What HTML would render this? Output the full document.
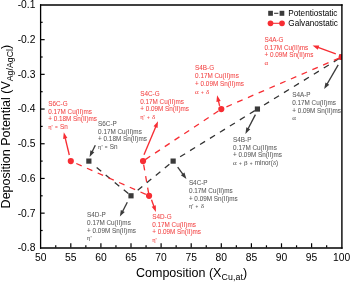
<!DOCTYPE html>
<html><head><meta charset="utf-8"><style>
html,body{margin:0;padding:0;background:#fff;width:350px;height:282px;overflow:hidden}
svg{display:block;will-change:transform;font-family:"Liberation Sans",sans-serif}
</style></head><body>
<svg width="350" height="282" viewBox="0 0 350 282">
<defs><clipPath id="pc"><rect x="40.65" y="5.1" width="301.05" height="242.4"/></clipPath></defs>
<g clip-path="url(#pc)">
<line x1="96.66" y1="167.52" x2="131.00" y2="195.80" stroke="#333" stroke-width="1.3" stroke-dasharray="5.9 5.8"/>
<line x1="137.72" y1="190.27" x2="173.14" y2="161.10" stroke="#333" stroke-width="1.3" stroke-dasharray="5.9 5.8"/>
<line x1="180.12" y1="156.79" x2="257.42" y2="109.05" stroke="#333" stroke-width="1.3" stroke-dasharray="5.9 5.8"/>
<line x1="264.06" y1="104.95" x2="341.70" y2="57.00" stroke="#333" stroke-width="1.3" stroke-dasharray="5.9 5.8"/>
<line x1="76.29" y1="163.53" x2="149.06" y2="195.80" stroke="#f72d33" stroke-width="1.3" stroke-dasharray="5.9 5.8"/>
<line x1="148.65" y1="193.44" x2="143.04" y2="161.10" stroke="#f72d33" stroke-width="1.3" stroke-dasharray="5.9 5.8"/>
<line x1="145.29" y1="159.60" x2="221.30" y2="109.05" stroke="#f72d33" stroke-width="1.3" stroke-dasharray="5.9 5.8"/>
<line x1="226.44" y1="106.83" x2="341.70" y2="57.00" stroke="#f72d33" stroke-width="1.3" stroke-dasharray="5.9 5.8"/>
<rect x="86.26" y="158.50" width="5.2" height="5.2" fill="#3a3a3a"/>
<rect x="128.40" y="193.20" width="5.2" height="5.2" fill="#3a3a3a"/>
<rect x="170.54" y="158.50" width="5.2" height="5.2" fill="#3a3a3a"/>
<rect x="254.82" y="106.45" width="5.2" height="5.2" fill="#3a3a3a"/>
<rect x="339.10" y="54.40" width="5.2" height="5.2" fill="#3a3a3a"/>
<circle cx="70.80" cy="161.10" r="3.1" fill="#f72d33"/>
<circle cx="149.06" cy="195.80" r="3.1" fill="#f72d33"/>
<circle cx="143.04" cy="161.10" r="3.1" fill="#f72d33"/>
<circle cx="221.30" cy="109.05" r="3.1" fill="#f72d33"/>
<circle cx="341.70" cy="57.00" r="3.1" fill="#f72d33"/>
</g>
<line x1="69.30" y1="155.00" x2="65.17" y2="137.94" stroke="#f72d33" stroke-width="1.35"/>
<polygon points="63.80,132.30 67.42,137.90 63.15,138.94" fill="#f72d33"/>
<line x1="95.30" y1="145.20" x2="92.14" y2="151.69" stroke="#3a3a3a" stroke-width="1.35"/>
<polygon points="89.60,156.90 90.38,150.27 94.34,152.20" fill="#3a3a3a"/>
<line x1="144.00" y1="154.80" x2="155.76" y2="126.65" stroke="#f72d33" stroke-width="1.35"/>
<polygon points="158.00,121.30 157.60,127.96 153.54,126.26" fill="#f72d33"/>
<line x1="177.70" y1="167.10" x2="182.98" y2="174.32" stroke="#3a3a3a" stroke-width="1.35"/>
<polygon points="186.40,179.00 180.91,175.21 184.46,172.62" fill="#3a3a3a"/>
<line x1="127.30" y1="202.20" x2="122.55" y2="211.44" stroke="#3a3a3a" stroke-width="1.35"/>
<polygon points="119.90,216.60 120.82,209.99 124.74,212.00" fill="#3a3a3a"/>
<line x1="151.50" y1="199.70" x2="153.93" y2="206.44" stroke="#f72d33" stroke-width="1.35"/>
<polygon points="155.90,211.90 151.69,206.72 155.83,205.23" fill="#f72d33"/>
<line x1="219.60" y1="105.90" x2="218.43" y2="100.95" stroke="#f72d33" stroke-width="1.35"/>
<polygon points="217.10,95.30 220.69,100.93 216.40,101.94" fill="#f72d33"/>
<line x1="255.40" y1="114.60" x2="248.07" y2="128.75" stroke="#3a3a3a" stroke-width="1.35"/>
<polygon points="245.40,133.90 246.34,127.29 250.25,129.32" fill="#3a3a3a"/>
<line x1="338.20" y1="64.90" x2="327.11" y2="83.98" stroke="#3a3a3a" stroke-width="1.35"/>
<polygon points="324.20,89.00 325.46,82.45 329.27,84.66" fill="#3a3a3a"/>
<line x1="335.80" y1="53.90" x2="318.05" y2="47.40" stroke="#f72d33" stroke-width="1.35"/>
<polygon points="312.60,45.40 319.27,45.50 317.76,49.63" fill="#f72d33"/>
<line x1="40.0" y1="5.0" x2="342.6" y2="5.0" stroke="#000" stroke-width="1.5"/>
<line x1="40.0" y1="248.0" x2="342.6" y2="248.0" stroke="#000" stroke-width="1.6"/>
<line x1="40.6" y1="4.25" x2="40.6" y2="248.8" stroke="#000" stroke-width="1.3"/>
<line x1="341.9" y1="4.25" x2="341.9" y2="248.8" stroke="#000" stroke-width="1.4"/>
<text x="40.70" y="261" font-size="10.3" text-anchor="middle">50</text>
<line x1="55.75" y1="247.5" x2="55.75" y2="245.30" stroke="#000" stroke-width="1.2"/>
<line x1="70.80" y1="247.5" x2="70.80" y2="243.30" stroke="#000" stroke-width="1.2"/>
<text x="70.80" y="261" font-size="10.3" text-anchor="middle">55</text>
<line x1="85.85" y1="247.5" x2="85.85" y2="245.30" stroke="#000" stroke-width="1.2"/>
<line x1="100.90" y1="247.5" x2="100.90" y2="243.30" stroke="#000" stroke-width="1.2"/>
<text x="100.90" y="261" font-size="10.3" text-anchor="middle">60</text>
<line x1="115.95" y1="247.5" x2="115.95" y2="245.30" stroke="#000" stroke-width="1.2"/>
<line x1="131.00" y1="247.5" x2="131.00" y2="243.30" stroke="#000" stroke-width="1.2"/>
<text x="131.00" y="261" font-size="10.3" text-anchor="middle">65</text>
<line x1="146.05" y1="247.5" x2="146.05" y2="245.30" stroke="#000" stroke-width="1.2"/>
<line x1="161.10" y1="247.5" x2="161.10" y2="243.30" stroke="#000" stroke-width="1.2"/>
<text x="161.10" y="261" font-size="10.3" text-anchor="middle">70</text>
<line x1="176.15" y1="247.5" x2="176.15" y2="245.30" stroke="#000" stroke-width="1.2"/>
<line x1="191.20" y1="247.5" x2="191.20" y2="243.30" stroke="#000" stroke-width="1.2"/>
<text x="191.20" y="261" font-size="10.3" text-anchor="middle">75</text>
<line x1="206.25" y1="247.5" x2="206.25" y2="245.30" stroke="#000" stroke-width="1.2"/>
<line x1="221.30" y1="247.5" x2="221.30" y2="243.30" stroke="#000" stroke-width="1.2"/>
<text x="221.30" y="261" font-size="10.3" text-anchor="middle">80</text>
<line x1="236.35" y1="247.5" x2="236.35" y2="245.30" stroke="#000" stroke-width="1.2"/>
<line x1="251.40" y1="247.5" x2="251.40" y2="243.30" stroke="#000" stroke-width="1.2"/>
<text x="251.40" y="261" font-size="10.3" text-anchor="middle">85</text>
<line x1="266.45" y1="247.5" x2="266.45" y2="245.30" stroke="#000" stroke-width="1.2"/>
<line x1="281.50" y1="247.5" x2="281.50" y2="243.30" stroke="#000" stroke-width="1.2"/>
<text x="281.50" y="261" font-size="10.3" text-anchor="middle">90</text>
<line x1="296.55" y1="247.5" x2="296.55" y2="245.30" stroke="#000" stroke-width="1.2"/>
<line x1="311.60" y1="247.5" x2="311.60" y2="243.30" stroke="#000" stroke-width="1.2"/>
<text x="311.60" y="261" font-size="10.3" text-anchor="middle">95</text>
<line x1="326.65" y1="247.5" x2="326.65" y2="245.30" stroke="#000" stroke-width="1.2"/>
<text x="341.70" y="261" font-size="10.3" text-anchor="middle">100</text>
<text x="35.4" y="8.30" font-size="10.3" text-anchor="end">-0.1</text>
<line x1="40.65" y1="22.30" x2="42.65" y2="22.30" stroke="#000" stroke-width="1.2"/>
<line x1="40.65" y1="39.65" x2="44.65" y2="39.65" stroke="#000" stroke-width="1.2"/>
<text x="35.4" y="43.00" font-size="10.3" text-anchor="end">-0.2</text>
<line x1="40.65" y1="57.00" x2="42.65" y2="57.00" stroke="#000" stroke-width="1.2"/>
<line x1="40.65" y1="74.35" x2="44.65" y2="74.35" stroke="#000" stroke-width="1.2"/>
<text x="35.4" y="77.70" font-size="10.3" text-anchor="end">-0.3</text>
<line x1="40.65" y1="91.70" x2="42.65" y2="91.70" stroke="#000" stroke-width="1.2"/>
<line x1="40.65" y1="109.05" x2="44.65" y2="109.05" stroke="#000" stroke-width="1.2"/>
<text x="35.4" y="112.40" font-size="10.3" text-anchor="end">-0.4</text>
<line x1="40.65" y1="126.40" x2="42.65" y2="126.40" stroke="#000" stroke-width="1.2"/>
<line x1="40.65" y1="143.75" x2="44.65" y2="143.75" stroke="#000" stroke-width="1.2"/>
<text x="35.4" y="147.10" font-size="10.3" text-anchor="end">-0.5</text>
<line x1="40.65" y1="161.10" x2="42.65" y2="161.10" stroke="#000" stroke-width="1.2"/>
<line x1="40.65" y1="178.45" x2="44.65" y2="178.45" stroke="#000" stroke-width="1.2"/>
<text x="35.4" y="181.80" font-size="10.3" text-anchor="end">-0.6</text>
<line x1="40.65" y1="195.80" x2="42.65" y2="195.80" stroke="#000" stroke-width="1.2"/>
<line x1="40.65" y1="213.15" x2="44.65" y2="213.15" stroke="#000" stroke-width="1.2"/>
<text x="35.4" y="216.50" font-size="10.3" text-anchor="end">-0.7</text>
<line x1="40.65" y1="230.50" x2="42.65" y2="230.50" stroke="#000" stroke-width="1.2"/>
<text x="35.4" y="251.20" font-size="10.3" text-anchor="end">-0.8</text>
<text x="136" y="277" font-size="12.5">Composition (X<tspan font-size="8.8" dy="2.7" letter-spacing="0.1">Cu,at</tspan><tspan dy="-2.7">)</tspan></text>
<text transform="translate(10,208.4) rotate(-90)" font-size="12.5">Deposition Potential (V<tspan font-size="8.8" dy="2.7">Ag/AgCl</tspan><tspan dy="-2.7">)</tspan></text>
<line x1="274.1" y1="13.3" x2="278.4" y2="13.3" stroke="#3a3a3a" stroke-width="1.1"/>
<rect x="268.2" y="10.8" width="4.7" height="5" fill="#3a3a3a"/>
<rect x="279.6" y="10.8" width="4.7" height="5" fill="#3a3a3a"/>
<line x1="272" y1="23.3" x2="280" y2="23.3" stroke="#f72d33" stroke-width="1.1"/>
<circle cx="270.5" cy="23.3" r="2.85" fill="#f72d33"/>
<circle cx="282" cy="23.3" r="2.85" fill="#f72d33"/>
<text x="288.3" y="16.0" font-size="8.2">Potentiostatic</text>
<text x="288.3" y="26" font-size="8.2">Galvanostatic</text>
<g fill="#f24545" stroke="#f24545" stroke-width="0.05" font-size="6.35">
<text x="48.2" y="105.80">S6C-G</text>
<text x="48.2" y="113.55">0.17M Cu(II)ms</text>
<text x="48.2" y="121.30">+ 0.18M Sn(II)ms</text>
<text x="48.2" y="129.05"><tspan font-family="Liberation Serif" font-size="6.4">η'</tspan> <tspan font-size="4.7" dx="0.45" letter-spacing="0.5">=</tspan> Sn</text>
</g>
<g fill="#5a5a5a" stroke="#5a5a5a" stroke-width="0.05" font-size="6.35">
<text x="98.1" y="125.80">S6C-P</text>
<text x="98.1" y="133.55">0.17M Cu(II)ms</text>
<text x="98.1" y="141.30">+ 0.18M Sn(II)ms</text>
<text x="98.1" y="149.05"><tspan font-family="Liberation Serif" font-size="6.4">η'</tspan> <tspan font-size="4.7" dx="0.45" letter-spacing="0.5">=</tspan> Sn</text>
</g>
<g fill="#f24545" stroke="#f24545" stroke-width="0.05" font-size="6.35">
<text x="140.2" y="95.80">S4C-G</text>
<text x="140.2" y="103.55">0.17M Cu(II)ms</text>
<text x="140.2" y="111.30">+ 0.09M Sn(II)ms</text>
<text x="140.2" y="119.05"><tspan font-family="Liberation Serif" font-size="6.4">η'</tspan> <tspan font-size="4.7" dx="0.45" letter-spacing="0.5">+</tspan> <tspan font-family="Liberation Serif" font-size="7">δ</tspan></text>
</g>
<g fill="#f24545" stroke="#f24545" stroke-width="0.05" font-size="6.35">
<text x="195.1" y="70.30">S4B-G</text>
<text x="195.1" y="78.05">0.17M Cu(II)ms</text>
<text x="195.1" y="85.80">+ 0.09M Sn(II)ms</text>
<text x="195.1" y="93.55"><tspan font-family="Liberation Serif" font-size="7">α</tspan> <tspan font-size="4.7" dx="0.45" letter-spacing="0.5">+</tspan> <tspan font-family="Liberation Serif" font-size="7">δ</tspan></text>
</g>
<g fill="#f24545" stroke="#f24545" stroke-width="0.05" font-size="6.35">
<text x="264.5" y="41.80">S4A-G</text>
<text x="264.5" y="49.55">0.17M Cu(II)ms</text>
<text x="264.5" y="57.30">+ 0.09M Sn(II)ms</text>
<text x="264.5" y="65.05"><tspan font-family="Liberation Serif" font-size="7">α</tspan></text>
</g>
<g fill="#5a5a5a" stroke="#5a5a5a" stroke-width="0.05" font-size="6.35">
<text x="292.2" y="97.20">S4A-P</text>
<text x="292.2" y="104.95">0.17M Cu(II)ms</text>
<text x="292.2" y="112.70">+ 0.09M Sn(II)ms</text>
<text x="292.2" y="120.45"><tspan font-family="Liberation Serif" font-size="7">α</tspan></text>
</g>
<g fill="#5a5a5a" stroke="#5a5a5a" stroke-width="0.05" font-size="6.35">
<text x="233.1" y="141.80">S4B-P</text>
<text x="233.1" y="149.55">0.17M Cu(II)ms</text>
<text x="233.1" y="157.30">+ 0.09M Sn(II)ms</text>
<text x="233.1" y="165.05"><tspan font-family="Liberation Serif" font-size="7">α</tspan> <tspan font-size="4.7" dx="0.45" letter-spacing="0.5">+</tspan> <tspan font-family="Liberation Serif" font-size="7">β</tspan> <tspan font-size="4.7" dx="0.45" letter-spacing="0.5">+</tspan> minor(<tspan font-family="Liberation Serif" font-size="7">δ</tspan>)</text>
</g>
<g fill="#5a5a5a" stroke="#5a5a5a" stroke-width="0.05" font-size="6.35">
<text x="188.9" y="185.20">S4C-P</text>
<text x="188.9" y="192.95">0.17M Cu(II)ms</text>
<text x="188.9" y="200.70">+ 0.09M Sn(II)ms</text>
<text x="188.9" y="208.45"><tspan font-family="Liberation Serif" font-size="6.4">η'</tspan> <tspan font-size="4.7" dx="0.45" letter-spacing="0.5">+</tspan> <tspan font-family="Liberation Serif" font-size="7">δ</tspan></text>
</g>
<g fill="#5a5a5a" stroke="#5a5a5a" stroke-width="0.05" font-size="6.35">
<text x="87.1" y="217.10">S4D-P</text>
<text x="87.1" y="224.85">0.17M Cu(II)ms</text>
<text x="87.1" y="232.60">+ 0.09M Sn(II)ms</text>
<text x="87.1" y="240.35"><tspan font-family="Liberation Serif" font-size="6.4">η'</tspan></text>
</g>
<g fill="#f24545" stroke="#f24545" stroke-width="0.05" font-size="6.35">
<text x="152.2" y="218.80">S4D-G</text>
<text x="152.2" y="226.55">0.17M Cu(II)ms</text>
<text x="152.2" y="234.30">+ 0.09M Sn(II)ms</text>
<text x="152.2" y="242.05"><tspan font-family="Liberation Serif" font-size="6.4">η'</tspan></text>
</g>
</svg>
</body></html>
